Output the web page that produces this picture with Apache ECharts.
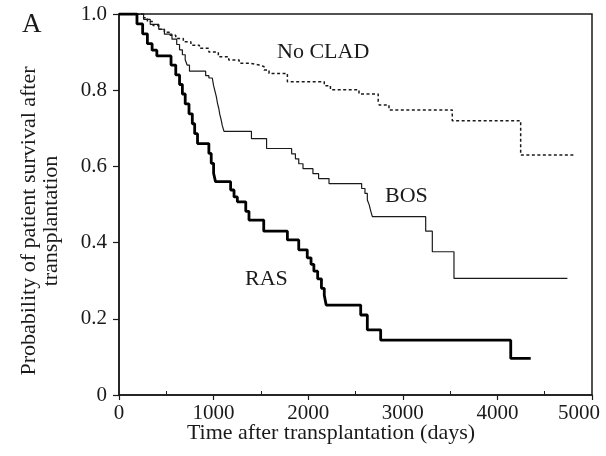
<!DOCTYPE html>
<html>
<head>
<meta charset="utf-8">
<script src="https://cdn.jsdelivr.net/npm/echarts@6/dist/echarts.min.js"></script>
<style>
  html, body { margin: 0; padding: 0; background: #fff; }
  #chart { width: 606px; height: 456px; }
</style>
</head>
<body>
<div id="chart"></div>
<script>
// Kaplan-Meier curves (days, survival)
var rasDays = [0, 190, 250, 300, 350, 400, 550, 600, 640, 670, 700, 740, 775, 800, 830, 950, 975, 1000, 1020, 1180, 1216, 1251, 1340, 1374, 1530, 1780, 1900, 1990, 2030, 2060, 2100, 2140, 2170, 2190, 2555, 2625, 2766, 4141, 4352];
var rasSurv = [1.0, 0.974, 0.948, 0.922, 0.905, 0.89, 0.866, 0.84, 0.815, 0.79, 0.764, 0.738, 0.712, 0.686, 0.66, 0.634, 0.608, 0.582, 0.56, 0.538, 0.52, 0.507, 0.482, 0.459, 0.43, 0.407, 0.381, 0.36, 0.343, 0.325, 0.305, 0.28, 0.262, 0.236, 0.21, 0.171, 0.144, 0.096, 0.096];

var bosDays = [0, 260, 330, 420, 480, 560, 610, 640, 670, 700, 720, 745, 916, 950, 986, 1000, 1015, 1030, 1040, 1055, 1065, 1080, 1092, 1110, 1400, 1560, 1825, 1865, 1900, 1945, 2050, 2110, 2220, 2565, 2600, 2625, 2645, 2660, 2678, 3242, 3312, 3541, 4740];
var bosSurv = [1.0, 0.986, 0.973, 0.96, 0.947, 0.934, 0.92, 0.906, 0.893, 0.88, 0.866, 0.85, 0.838, 0.832, 0.827, 0.812, 0.797, 0.782, 0.767, 0.752, 0.737, 0.722, 0.707, 0.692, 0.673, 0.647, 0.633, 0.62, 0.607, 0.594, 0.581, 0.568, 0.555, 0.542, 0.529, 0.512, 0.499, 0.484, 0.468, 0.43, 0.376, 0.306, 0.306];

var noCladDays = [0, 260, 300, 360, 420, 480, 540, 600, 680, 760, 850, 950, 1050, 1160, 1270, 1380, 1480, 1533, 1586, 1780, 2170, 2235, 2537, 2740, 2750, 2854, 3523, 4246, 4810];
var noCladSurv = [1.0, 0.99, 0.98, 0.97, 0.96, 0.952, 0.944, 0.936, 0.927, 0.918, 0.91, 0.9, 0.888, 0.879, 0.871, 0.866, 0.862, 0.853, 0.844, 0.822, 0.812, 0.801, 0.79, 0.77, 0.761, 0.748, 0.72, 0.63, 0.63];

var xTicks = [0, 1000, 2000, 3000, 4000, 5000];
var yTicks = [0, 0.2, 0.4, 0.6, 0.8, 1.0];

function pairs(days, surv) {
  return days.map(function (d, i) { return [d, surv[i]]; });
}

var serif = 'Liberation Serif, Times New Roman, serif';
var ink = '#1a1a1a';

var myChart = echarts.init(document.getElementById('chart'));

var option = {
  animation: false,
  grid: {
    left: 119, right: 14, top: 14, bottom: 61,
    show: true,
    borderColor: ink,
    borderWidth: 1.5
  },
  xAxis: [
    {
      type: 'value',
      min: xTicks[0],
      max: xTicks[xTicks.length - 1],
      interval: 1000,
      splitLine: { show: false },
      axisLine: { show: true, lineStyle: { color: ink, width: 1.5 } },
      axisTick: { show: true, length: 5, lineStyle: { color: ink, width: 1.2 } },
      axisLabel: {
        margin: 8,
        color: ink,
        fontFamily: serif,
        fontSize: 21,
        formatter: function (v) {
          return v === 5000 ? '{last|5000}' : String(v);
        },
        rich: {
          last: { fontFamily: serif, fontSize: 21, color: ink, padding: [0, 26, 0, 0] }
        }
      }
    },
    {
      // minor ticks pointing into the plot
      type: 'value',
      position: 'bottom',
      min: xTicks[0],
      max: xTicks[xTicks.length - 1],
      interval: 1000,
      splitLine: { show: false },
      axisLine: { show: false },
      axisLabel: { show: false },
      axisTick: { show: false, inside: true },
      minorTick: { show: true, splitNumber: 2, length: 4, lineStyle: { color: ink, width: 1 } }
    }
  ],
  yAxis: {
    type: 'value',
    min: yTicks[0],
    max: yTicks[yTicks.length - 1],
    interval: 0.2,
    splitLine: { show: false },
    axisLine: { show: true, lineStyle: { color: ink, width: 1.5 } },
    axisTick: { show: true, length: 6, lineStyle: { color: ink, width: 1.2 } },
    axisLabel: {
      margin: 12,
      color: ink,
      fontFamily: serif,
      fontSize: 21,
      formatter: function (v) { return v === 0 ? '0' : v.toFixed(1); }
    }
  },
  series: [
    {
      name: 'No CLAD',
      type: 'line',
      step: 'end',
      showSymbol: false,
      data: pairs(noCladDays, noCladSurv),
      lineStyle: { color: ink, width: 1.5, type: [3, 2.5] }
    },
    {
      name: 'BOS',
      type: 'line',
      step: 'end',
      showSymbol: false,
      data: pairs(bosDays, bosSurv),
      lineStyle: { color: ink, width: 1.2 }
    },
    {
      name: 'RAS',
      type: 'line',
      step: 'end',
      showSymbol: false,
      data: pairs(rasDays, rasSurv),
      lineStyle: { color: '#000', width: 2.8 }
    }
  ],
  graphic: [
    { type: 'text', left: 22, top: 11, style: { text: 'A', font: '27px ' + serif, fill: ink } },
    { type: 'text', x: 277, y: 52, style: { text: 'No CLAD', font: '22px ' + serif, fill: ink, textVerticalAlign: 'middle' } },
    { type: 'text', x: 385, y: 196, style: { text: 'BOS', font: '22px ' + serif, fill: ink, textVerticalAlign: 'middle' } },
    { type: 'text', x: 245, y: 279, style: { text: 'RAS', font: '22px ' + serif, fill: ink, textVerticalAlign: 'middle' } },
    {
      type: 'text', x: 331, y: 433,
      style: { text: 'Time after transplantation (days)', font: '22px ' + serif, fill: ink, textAlign: 'center', textVerticalAlign: 'middle' }
    },
    {
      type: 'text', x: 40, y: 221, rotation: Math.PI / 2,
      style: {
        text: 'Probability of patient survival after\ntransplantation',
        font: '22px ' + serif, lineHeight: 22, fill: ink,
        textAlign: 'center', textVerticalAlign: 'middle'
      }
    }
  ]
};

myChart.setOption(option);
</script>
</body>
</html>
